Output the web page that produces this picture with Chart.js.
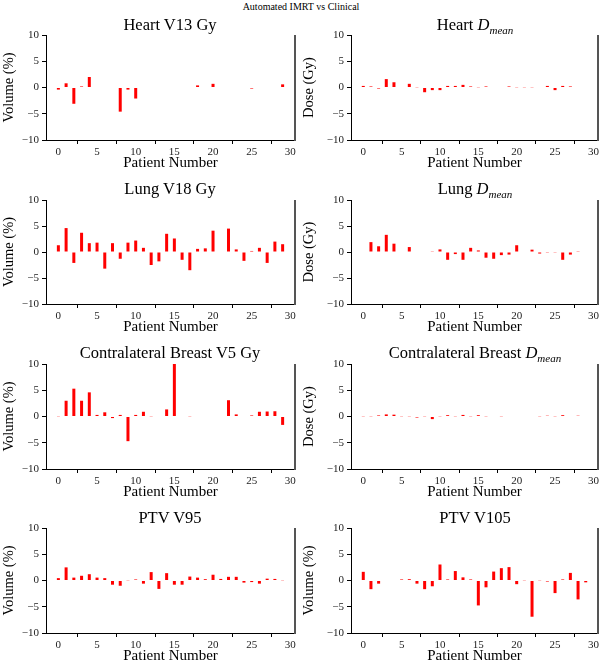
<!DOCTYPE html>
<html>
<head>
<meta charset="utf-8">
<script src="https://cdn.jsdelivr.net/npm/chart.js@4.4.0/dist/chart.umd.min.js"></script>
<style>
  body { margin: 0; width: 602px; height: 664px; overflow: hidden; background: #fff; position: relative; font-family: "Liberation Serif", serif; }
  canvas { position: absolute; }
  .ttl { position: absolute; width: 300px; text-align: center; font-size: 16.5px; color: #000; z-index: 2; line-height: 1; }
  .ttl sub { font-size: 11px; }
  #suptitle { position: absolute; left: 0; width: 602px; top: 1px; text-align: center; font-size: 10px; z-index: 2; }
</style>
</head>
<body>
<div id="suptitle">Automated IMRT vs Clinical</div>

<div class="ttl" style="left:20px;top:17px">Heart V13 Gy</div>
<div class="ttl" style="left:325px;top:17px">Heart <i>D</i><sub><i>mean</i></sub></div>
<div class="ttl" style="left:20px;top:181px">Lung V18 Gy</div>
<div class="ttl" style="left:325px;top:181px">Lung <i>D</i><sub><i>mean</i></sub></div>
<div class="ttl" style="left:20px;top:345px">Contralateral Breast V5 Gy</div>
<div class="ttl" style="left:325px;top:345px">Contralateral Breast <i>D</i><sub><i>mean</i></sub></div>
<div class="ttl" style="left:20px;top:510px">PTV V95</div>
<div class="ttl" style="left:325px;top:510px">PTV V105</div>

<canvas id="heart-v13" width="320" height="147" style="left:0;top:25px"></canvas>
<canvas id="heart-dmean" width="320" height="147" style="left:300px;top:25px"></canvas>
<canvas id="lung-v18" width="320" height="146" style="left:0;top:190px"></canvas>
<canvas id="lung-dmean" width="320" height="146" style="left:300px;top:190px"></canvas>
<canvas id="breast-v5" width="320" height="147" style="left:0;top:354px"></canvas>
<canvas id="breast-dmean" width="320" height="147" style="left:300px;top:354px"></canvas>
<canvas id="ptv-v95" width="320" height="147" style="left:0;top:518px"></canvas>
<canvas id="ptv-v105" width="320" height="147" style="left:300px;top:518px"></canvas>

<script>
    "use strict";

    // patient index on the x axis
    var patients = [0, 1, 2, 3, 4, 5, 6, 7, 8, 9, 10, 11, 12, 13, 14, 15, 16, 17, 18, 19, 20, 21, 22, 23, 24, 25, 26, 27, 28, 29];
    var xTicks = [0, 5, 10, 15, 20, 25, 30];
    var yTicks = [-10, -5, 0, 5, 10];

    // automated minus clinical differences
    var heartV13 = [-0.4, 0.8, -3.1, 0.2, 2.0, 0, 0, 0, -4.6, -0.4, -2.1, 0, 0, 0, 0, 0, 0, 0, 0.4, 0, 0.7, 0.1, 0.1, 0, 0, -0.2, 0, 0, 0, 0.6];
    var heartDmean = [0.3, 0.2, -0.2, 1.6, 1.0, 0, 0.7, 0.05, -0.9, -0.5, -0.5, 0.3, 0.3, 0.5, 0.2, 0.05, 0.2, 0.1, 0.1, 0.2, 0.05, 0.05, 0.05, 0.1, 0.3, -0.5, 0.3, 0.2, 0.1, 0.1];
    var lungV18 = [1.3, 4.6, -2.1, 3.7, 1.7, 1.8, -3.2, 1.7, -1.3, 1.8, 2.2, 0.8, -2.5, -1.8, 3.5, 2.6, -1.5, -3.5, 0.6, 0.7, 4.1, 0, 4.5, 0.5, -1.7, 0.2, 0.8, -2.1, 2.0, 1.5];
    var lungDmean = [0.1, 1.9, 1.1, 3.3, 1.6, 0.1, 0.95, 0, -0.1, 0.05, 0.5, -1.5, -0.4, -1.5, 0.8, 0.3, -1.1, -1.3, -0.6, -0.5, 1.3, 0, 0.45, -0.3, -0.15, -0.05, -1.5, -0.5, 0.15, 0];
    var breastV5 = [0.05, 3.0, 5.3, 3.0, 4.6, 0.3, 0.8, -0.3, 0.3, -4.7, 0.3, 0.9, 0.05, 0, 1.35, 10.3, -0.1, 0.05, 0, 0, 0, 0, 3.1, 0.4, 0.1, 0.2, 0.9, 0.95, 1.0, -1.6];
    var breastDmean = [0.05, 0.05, 0.2, 0.4, 0.35, 0.05, 0.05, -0.2, 0.05, -0.5, 0.05, 0.25, 0.05, 0.3, 0.05, 0.25, 0.05, 0.1, 0.05, 0.1, 0, 0, 0.1, 0.05, 0.15, 0.05, 0.25, -0.1, 0.15, -0.1];
    var ptvV95 = [0.45, 2.5, 0.55, 0.9, 1.2, 0.55, 0.45, -0.8, -1.0, -0.05, 0.2, -0.6, 1.6, -1.6, 1.4, -0.8, -0.8, 0.75, 0.55, 0.25, 1.1, 0.3, 0.7, 0.7, -0.4, -0.3, -0.6, 0.35, 0.3, 0.05];
    var ptvV105 = [1.65, -1.65, -0.6, 0.1, 0, 0.2, 0.25, -0.6, -1.65, -1.1, 3.05, 0.2, 1.8, 0.6, 0.2, -4.75, -1.3, 1.7, 2.35, 2.55, -0.7, 0.05, -6.9, 0.05, -0.2, -2.4, 0.2, 1.45, -3.6, -0.35];

    var FONT = "'Liberation Serif', 'DejaVu Serif', serif";

    // matplotlib keeps a right spine on these plots
    var rightSpine = {
        id: 'rightSpine',
        afterDraw: function (chart) {
            var a = chart.chartArea;
            var c = chart.ctx;
            c.save();
            c.strokeStyle = '#555';
            c.lineWidth = 2;
            c.beginPath();
            c.moveTo(a.right, a.top);
            c.lineTo(a.right, a.bottom + 1);
            c.stroke();
            c.restore();
        }
    };

    function minus(v) {
        return v < 0 ? '\u2212' + Math.abs(v) : String(v);
    }

    function makePanel(id, values, yLabel, axisWidth, padRight) {
        var points = [];
        for (var i = 0; i < patients.length; i++) {
            points.push({x: patients[i], y: values[i]});
        }
        var ctx = document.getElementById(id).getContext("2d");
        return new Chart(ctx, {
            type: "bar",
            data: {
                datasets: [{
                    data: points,
                    backgroundColor: "rgb(255, 0, 0)",
                    borderWidth: 0,
                    inflateAmount: 0,
                    barThickness: 3
                }]
            },
            options: {
                responsive: false,
                animation: false,
                events: [],
                layout: {padding: {top: 10, right: padRight, left: 0, bottom: 0}},
                plugins: {legend: {display: false}, tooltip: {enabled: false}},
                scales: {
                    x: {
                        type: "linear",
                        min: -1.6,
                        max: 30.6,
                        offset: false,
                        afterBuildTicks: function (scale) {
                            scale.ticks = xTicks.map(function (v) { return {value: v}; });
                        },
                        afterFit: function (scale) { scale.height = 32; },
                        grid: {drawOnChartArea: false, drawTicks: true, tickLength: 4, color: "#000"},
                        border: {display: true, color: "#000", width: 1},
                        ticks: {
                            color: "#222", padding: 2, maxRotation: 0,
                            font: {family: FONT, size: 11},
                            callback: function (v) { return minus(v); }
                        },
                        title: {display: true, text: "Patient Number", color: "#000", padding: 0,
                                font: {family: FONT, size: 15}}
                    },
                    y: {
                        min: -10,
                        max: 10,
                        afterBuildTicks: function (scale) {
                            scale.ticks = yTicks.map(function (v) { return {value: v}; });
                        },
                        afterFit: function (scale) { scale.width = axisWidth; },
                        grid: {drawOnChartArea: false, drawTicks: true, tickLength: 4, color: "#000"},
                        border: {display: true, color: "#000", width: 1},
                        ticks: {
                            color: "#222", padding: 3,
                            font: {family: FONT, size: 11},
                            callback: function (v) { return minus(v); }
                        },
                        title: {display: true, text: yLabel, color: "#000", padding: 0,
                                font: {family: FONT, size: 14.5}}
                    }
                }
            },
            plugins: [rightSpine]
        });
    }

    makePanel("heart-v13", heartV13, "Volume (%)", 46, 25);
    makePanel("heart-dmean", heartDmean, "Dose (Gy)", 51, 22);
    makePanel("lung-v18", lungV18, "Volume (%)", 46, 25);
    makePanel("lung-dmean", lungDmean, "Dose (Gy)", 51, 22);
    makePanel("breast-v5", breastV5, "Volume (%)", 46, 25);
    makePanel("breast-dmean", breastDmean, "Dose (Gy)", 51, 22);
    makePanel("ptv-v95", ptvV95, "Volume (%)", 46, 25);
    makePanel("ptv-v105", ptvV105, "Volume (%)", 51, 22);
</script>
</body>
</html>
